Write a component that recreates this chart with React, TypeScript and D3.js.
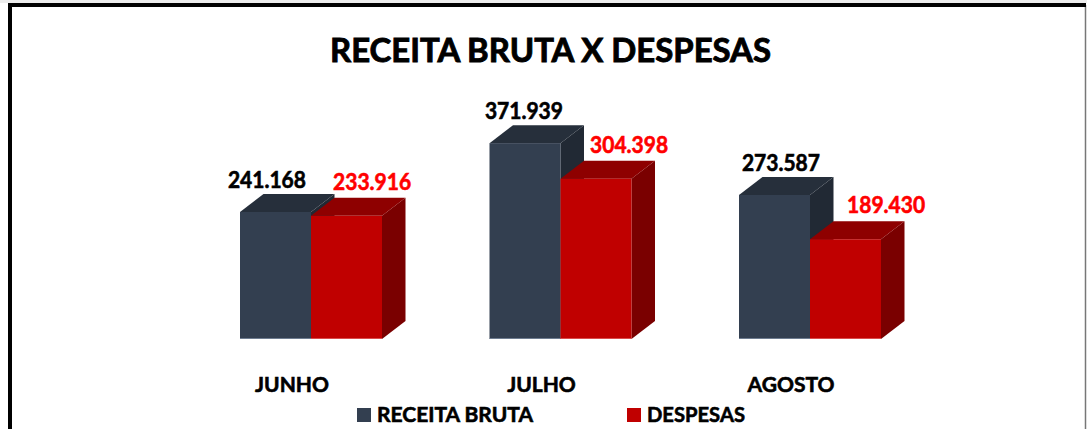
import React from "react";
import * as d3 from "d3";

const categories = ["JUNHO", "JULHO", "AGOSTO"];
const seriesNames = ["RECEITA BRUTA", "DESPESAS"];
const receitaBruta = [241168, 371939, 273587];
const despesas = [233916, 304398, 189430];
const valueLabels = [
  ["241.168", "371.939", "273.587"],
  ["233.916", "304.398", "189.430"],
];

const W = 1087;
const H = 429;
const FONT = "Lato, 'Open Sans', sans-serif";

const palette = [
  { front: "#333F50", top: "#262F3B", side: "#212934", edge: "#7D8CA0", label: "#000000" },
  { front: "#C00000", top: "#8E0000", side: "#7A0000", edge: "#E06060", label: "#FF0000" },
];

export default function App() {
  const base = 339;
  const x = d3.scaleBand<string>().domain(categories).range([186.25, 934.75]).padding(0);
  const inner = d3.scaleBand<string>().domain(seriesNames).range([0, 142]).padding(0);
  const y = d3.scaleLinear().domain([0, 400000]).range([base, base - 400000 * 0.0005266]);
  const dx = 23.5;
  const dy = 18;
  const series = [receitaBruta, despesas];
  const labelShift = [0, 32];
  const labelLift = [24, 26];

  const bars: React.ReactNode[] = [];
  const labels: React.ReactNode[] = [];
  categories.forEach((c, ci) => {
    const gx = (x(c) as number) + x.bandwidth() / 2 - 71;
    series.forEach((vals, si) => {
      const p = palette[si];
      const bx = gx + (inner(seriesNames[si]) as number);
      const bw = inner.bandwidth();
      const yt = y(vals[ci]);
      const top = `${bx},${yt} ${bx + dx},${yt - dy} ${bx + bw + dx},${yt - dy} ${bx + bw},${yt}`;
      const side = `${bx + bw},${yt} ${bx + bw + dx},${yt - dy} ${bx + bw + dx},${base - dy} ${bx + bw},${base}`;
      bars.push(
        <g key={`${c}-${si}`}>
          <polygon points={side} fill={p.side} />
          <polygon points={top} fill={p.top} />
          <rect x={bx} y={yt} width={bw} height={base - yt} fill={p.front} />
          <line x1={bx} x2={bx + bw} y1={base - 0.5} y2={base - 0.5} stroke={p.edge} strokeWidth={1} opacity={0.8} />
        </g>
      );
      const fc = bx + bw / 2;
      const lx = fc + labelShift[si] + 0.03 * (fc - 560);
      labels.push(
        <text
          key={`l-${c}-${si}`}
          x={lx}
          y={yt - labelLift[si]}
          textAnchor="middle"
          fontFamily={FONT}
          fontWeight={700}
          fontSize={22}
          fill={p.label}
          stroke={p.label}
          strokeWidth={0.6}
          textLength={78}
          lengthAdjust="spacingAndGlyphs"
        >
          {valueLabels[si][ci]}
        </text>
      );
    });
  });

  const txt = { fontFamily: FONT, fontWeight: 700, fill: "#000", stroke: "#000", strokeWidth: 0.6 } as const;

  return (
    <svg
      width={W}
      height={H}
      style={{ position: "fixed", left: 0, top: 0, background: "#fff" }}
    >
      <rect x={0} y={0} width={W} height={H} fill="#ffffff" />
      <rect x={0} y={0} width={W} height={3} fill="#ececec" />
      <line x1={1085.5} x2={1085.5} y1={5} y2={H} stroke="#777" strokeWidth={1.5} />
      <rect x={8} y={3} width={1078} height={4} fill="#000" />
      <rect x={8} y={3} width={4} height={H} fill="#000" />

      <text
        x={550.5}
        y={62}
        textAnchor="middle"
        {...txt}
        strokeWidth={0.9}
        fontSize={33}
        textLength={441}
        lengthAdjust="spacingAndGlyphs"
      >
        RECEITA BRUTA X DESPESAS
      </text>

      {bars}
      {labels}

      {categories.map((c) => (
        <text
          key={c}
          x={(x(c) as number) + x.bandwidth() / 2 - 19}
          y={391.5}
          textAnchor="middle"
          {...txt}
          fontSize={21}
        >
          {c}
        </text>
      ))}

      <rect x={357} y={408} width={14} height={14} fill={palette[0].front} />
      <text x={377} y={422} {...txt} fontSize={21} textLength={156} lengthAdjust="spacingAndGlyphs">
        {seriesNames[0]}
      </text>
      <rect x={627} y={408} width={14} height={14} fill={palette[1].front} />
      <text x={647} y={422} {...txt} fontSize={21} textLength={98} lengthAdjust="spacingAndGlyphs">
        {seriesNames[1]}
      </text>
    </svg>
  );
}
